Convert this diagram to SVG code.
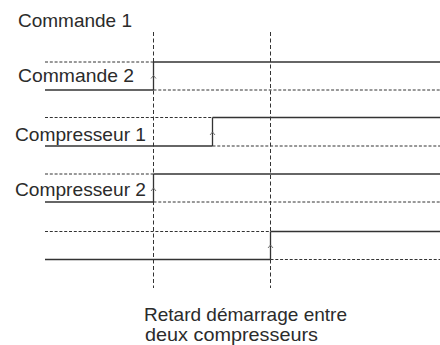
<svg xmlns="http://www.w3.org/2000/svg" width="440" height="345" viewBox="0 0 440 345">
  <style>
    .lbl { font-family: "Liberation Sans", Arial, sans-serif; font-size: 18.5px; fill: #2b2b2b; }
    .sol { stroke: #333; stroke-width: 1.3; fill: none; }
    .dsh { stroke: #333; stroke-width: 1; fill: none; stroke-dasharray: 3 1.8; }
    .vd { stroke: #333; stroke-width: 1; fill: none; stroke-dasharray: 4 2.5; }
    .car { stroke: #666; stroke-width: 0.9; fill: none; }
  </style>
  <rect width="440" height="345" fill="#fff"/>
  <g id="connectors">
    <line class="vd" x1="153.5" y1="32" x2="153.5" y2="288"/>
    <line class="vd" x1="270.5" y1="32" x2="270.5" y2="288"/>
  </g>
  <g id="commande1">
    <text class="lbl" x="18" y="27" textLength="114" lengthAdjust="spacingAndGlyphs">Commande 1</text>
  </g>
  <g id="commande2">
    <text class="lbl" x="18" y="81.5" textLength="116" lengthAdjust="spacingAndGlyphs">Commande 2</text>
    <line class="dsh" x1="45" y1="62" x2="153.5" y2="62"/>
    <line class="sol" x1="153.5" y1="62" x2="440" y2="62"/>
    <line class="sol" x1="45" y1="90" x2="153.5" y2="90"/>
    <line class="dsh" x1="153.5" y1="90" x2="440" y2="90"/>
    <line class="sol" x1="153.5" y1="62" x2="153.5" y2="90"/>
    <polyline class="car" points="151,78.5 153.5,75.5 156,78.5"/>
  </g>
  <g id="compresseur1">
    <text class="lbl" x="15" y="140.5" textLength="131" lengthAdjust="spacingAndGlyphs">Compresseur 1</text>
    <line class="dsh" x1="45" y1="117.5" x2="212.5" y2="117.5"/>
    <line class="sol" x1="212.5" y1="117.5" x2="440" y2="117.5"/>
    <line class="sol" x1="45" y1="146" x2="212.5" y2="146"/>
    <line class="dsh" x1="212.5" y1="146" x2="440" y2="146"/>
    <line class="sol" x1="212.5" y1="117.5" x2="212.5" y2="146"/>
    <polyline class="car" points="210,135 212.5,132 215,135"/>
  </g>
  <g id="compresseur2">
    <text class="lbl" x="15" y="196" textLength="131" lengthAdjust="spacingAndGlyphs">Compresseur 2</text>
    <line class="dsh" x1="45" y1="174" x2="153.5" y2="174"/>
    <line class="sol" x1="153.5" y1="174" x2="440" y2="174"/>
    <line class="sol" x1="45" y1="202" x2="153.5" y2="202"/>
    <line class="dsh" x1="153.5" y1="202" x2="440" y2="202"/>
    <line class="sol" x1="153.5" y1="174" x2="153.5" y2="202"/>
    <polyline class="car" points="151,191 153.5,188 156,191"/>
  </g>
  <g id="retard">
    <line class="dsh" x1="45" y1="231.5" x2="270.5" y2="231.5"/>
    <line class="sol" x1="270.5" y1="231.5" x2="440" y2="231.5"/>
    <line class="sol" x1="45" y1="259.5" x2="270.5" y2="259.5"/>
    <line class="dsh" x1="270.5" y1="259.5" x2="440" y2="259.5"/>
    <line class="sol" x1="270.5" y1="231.5" x2="270.5" y2="259.5"/>
    <polyline class="car" points="268,248 270.5,245 273,248"/>
  </g>
  <g id="legend">
    <text class="lbl" x="144" y="321" textLength="203" lengthAdjust="spacingAndGlyphs">Retard démarrage entre</text>
    <text class="lbl" x="145" y="340.5" textLength="173" lengthAdjust="spacingAndGlyphs">deux compresseurs</text>
  </g>
</svg>
